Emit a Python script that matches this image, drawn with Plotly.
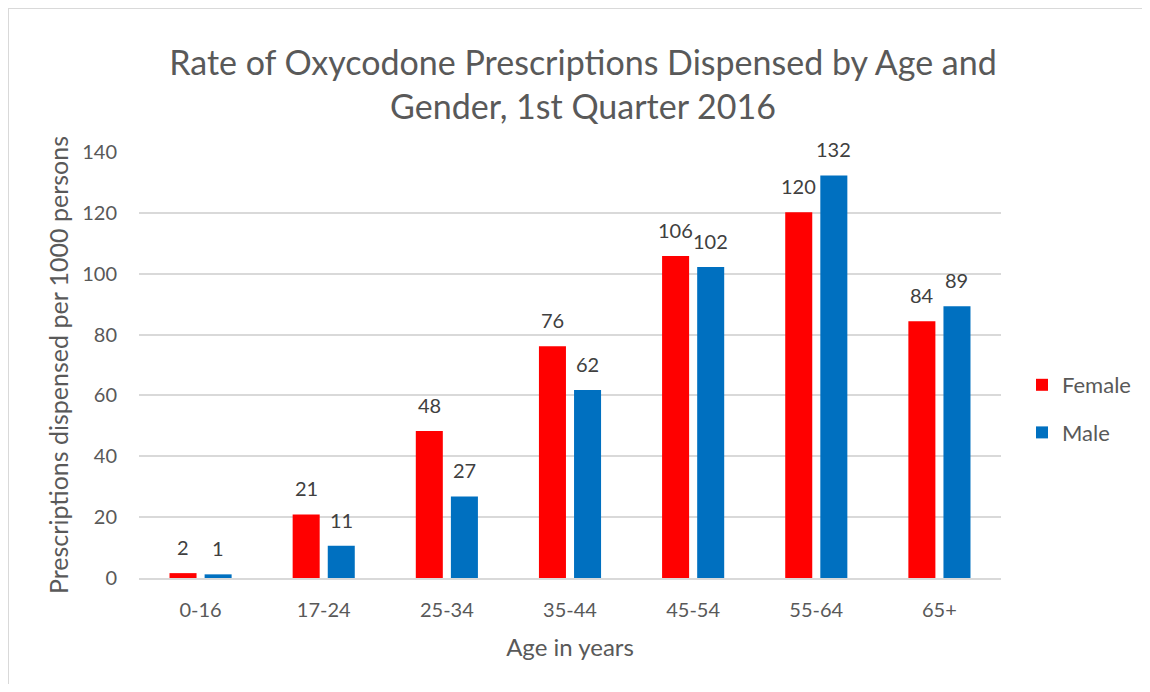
import plotly.graph_objects as go

# --- Data ---
age_groups = ['0-16', '17-24', '25-34', '35-44', '45-54', '55-64', '65+']
female_rate = [1.6, 20.9, 48.3, 76.2, 105.8, 120.2, 84.4]
male_rate = [1.2, 10.6, 26.8, 61.8, 102.2, 132.3, 89.3]

# the page body keeps its default 8px margin on every side,
# so the figure is 16px smaller than the window to avoid scrollbars
W, H = 1134, 676
M_L, M_R, M_T, M_B = 131, 141, 144, 106
PW, PH = W - M_L - M_R, H - M_T - M_B

FONT = 'Lato, "Open Sans", sans-serif'
TXT = '#595959'

fig = go.Figure()
fig.add_trace(go.Bar(x=age_groups, y=female_rate, name='Female',
                     marker=dict(color='#FF0000', line=dict(width=0)),
                     legendgroup='f'))
fig.add_trace(go.Bar(x=age_groups, y=male_rate, name='Male',
                     marker=dict(color='#0070C0', line=dict(width=0)),
                     legendgroup='m'))

# data labels above bars
annotations = []
for series, shift in ((female_rate, -17.5), (male_rate, 17.5)):
    for cat, val in zip(age_groups, series):
        annotations.append(dict(x=cat, y=val, xref='x', yref='y', text=f'{val:.0f}',
                                showarrow=False, xshift=shift, yshift=12, yanchor='bottom',
                                font=dict(family=FONT, size=20, color='#404040')))

def px_x(p):
    return (p - M_L) / PW

def px_y(p):
    return 1 - (p - M_T) / PH

border = dict(color='#D9D9D9', width=2)
shapes = [
    # chart border (top and left edges, the rest is cropped)
    dict(type='line', xref='paper', yref='paper', x0=px_x(0), x1=px_x(1400),
         y0=px_y(0), y1=px_y(0), line=border),
    dict(type='line', xref='paper', yref='paper', x0=px_x(0), x1=px_x(0),
         y0=px_y(0), y1=px_y(900), line=border),
]

fig.update_layout(
    width=W, height=H,
    margin=dict(l=M_L, r=M_R, t=M_T, b=M_B, autoexpand=False),
    paper_bgcolor='white', plot_bgcolor='white',
    font=dict(family=FONT, color=TXT),
    title=dict(text='Rate of Oxycodone Prescriptions Dispensed by Age and<br>Gender, 1st Quarter 2016',
               x=px_x(575), xref='paper', y=1 - 66.5 / H, yanchor='middle',
               font=dict(size=34, color=TXT, family=FONT)),
    barmode='group', bargap=0.43, bargroupgap=0.23,
    legend=dict(x=px_x(1014), y=px_y(401), xanchor='left', yanchor='middle',
                font=dict(size=22, color=TXT, family=FONT), tracegroupgap=16,
                itemwidth=30),
    annotations=annotations,
    shapes=shapes,
)
fig.update_xaxes(title=dict(text='Age in years', font=dict(size=24, color=TXT), standoff=19),
                 tickfont=dict(size=20, color=TXT), showline=True, linecolor='#D9D9D9',
                 linewidth=1.5, ticks='', ticklabelstandoff=13)
fig.update_yaxes(title=dict(text='Prescriptions dispensed per 1000 persons',
                            font=dict(size=25, color=TXT), standoff=6),
                 range=[0, 140], dtick=20, tickfont=dict(size=20, color=TXT),
                 gridcolor='#D9D9D9', gridwidth=1.5, zeroline=False,
                 ticklabelstandoff=21)

fig.write_html("out.html")
